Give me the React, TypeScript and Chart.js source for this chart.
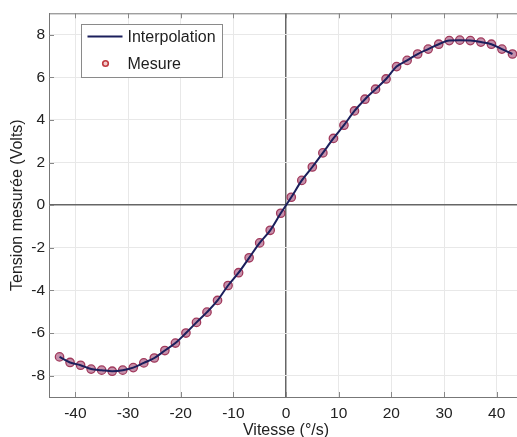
import React, { useEffect, useRef } from "react";
import { Chart, registerables } from "chart.js";

Chart.register(...registerables);

const VITESSE = [
  -43, -41, -39, -37, -35, -33, -31, -29, -27, -25, -23, -21, -19, -17, -15, -13, -11, -9, -7, -5, -3, -1,
  1, 3, 5, 7, 9, 11, 13, 15, 17, 19, 21, 23, 25, 27, 29, 31, 33, 35, 37, 39, 41, 43,
];
const TENSION = [
  -7.12, -7.38, -7.51, -7.69, -7.74, -7.79, -7.74, -7.62, -7.4, -7.17, -6.82, -6.47, -6.0, -5.5, -5.02, -4.47,
  -3.77, -3.17, -2.47, -1.77, -1.18, -0.38, 0.37, 1.16, 1.79, 2.45, 3.13, 3.75, 4.42, 4.97, 5.44, 5.92, 6.5,
  6.79, 7.09, 7.32, 7.55, 7.72, 7.74, 7.72, 7.65, 7.55, 7.32, 7.09,
];
const X_TICKS = [-40, -30, -20, -10, 0, 10, 20, 30, 40];
const Y_TICKS = [-8, -6, -4, -2, 0, 2, 4, 6, 8];
const SERIES_LINE = "Interpolation";
const SERIES_POINTS = "Mesure";
const X_TITLE = "Vitesse (°/s)";
const Y_TITLE = "Tension mesurée (Volts)";

const FONT = "'Liberation Sans', Arial, Helvetica, sans-serif";
const LINE_COLOR = "#1b1f5c";
const MARK_COLOR = "#a13a5c";
const MARK_FILL = "rgba(160, 70, 115, 0.6)";

const framePlugin = {
  id: "frame",
  afterDatasetsDraw(chart: any) {
    const { ctx, chartArea } = chart;
    const { left, right, top, bottom } = chartArea;
    const xs = chart.scales.x;
    const ys = chart.scales.y;
    ctx.save();
    ctx.strokeStyle = "#777";
    ctx.lineWidth = 1;
    ctx.beginPath();
    ctx.moveTo(left, top + 0.5);
    ctx.lineTo(right, top + 0.5);
    ctx.moveTo(right - 0.5, top);
    ctx.lineTo(right - 0.5, bottom);
    ctx.stroke();
    ctx.strokeStyle = "#888";
    ctx.beginPath();
    for (const v of X_TICKS) {
      const px = Math.round(xs.getPixelForValue(v)) + 0.5;
      ctx.moveTo(px, bottom);
      ctx.lineTo(px, bottom - 5);
      ctx.moveTo(px, top);
      ctx.lineTo(px, top + 5);
    }
    for (const v of Y_TICKS) {
      const py = Math.round(ys.getPixelForValue(v)) + 0.5;
      ctx.moveTo(left, py);
      ctx.lineTo(left + 5, py);
      ctx.moveTo(right, py);
      ctx.lineTo(right - 5, py);
    }
    ctx.stroke();
    ctx.restore();
  },
  afterDraw(chart: any) {
    const { ctx, chartArea } = chart;
    const ds = chart.data.datasets;
    const bx = Math.round(chartArea.left + 32) + 0.5;
    const by = Math.round(chartArea.top + 11) + 0.5;
    const bw = 141;
    const bh = 53;
    ctx.save();
    ctx.fillStyle = "#ffffff";
    ctx.fillRect(bx, by, bw, bh);
    ctx.strokeStyle = "#8a8a8a";
    ctx.lineWidth = 1;
    ctx.strokeRect(bx, by, bw, bh);
    const row1 = by + 12;
    const row2 = by + 39;
    ctx.strokeStyle = ds[0].borderColor;
    ctx.lineWidth = 2.2;
    ctx.beginPath();
    ctx.moveTo(bx + 6, row1);
    ctx.lineTo(bx + 41, row1);
    ctx.stroke();
    ctx.strokeStyle = "#c0393f";
    ctx.fillStyle = "rgba(230,150,150,0.5)";
    ctx.lineWidth = 1.6;
    ctx.beginPath();
    ctx.arc(bx + 24, row2, 2.8, 0, Math.PI * 2);
    ctx.fill();
    ctx.stroke();
    ctx.fillStyle = "#1e1e1e";
    ctx.font = `16px ${FONT}`;
    ctx.textBaseline = "middle";
    ctx.textAlign = "left";
    ctx.fillText(ds[0].label, bx + 46, row1 + 1);
    ctx.fillText(ds[1].label, bx + 46, row2 + 1);
    ctx.restore();
  },
};

export default function App() {
  const ref = useRef<HTMLCanvasElement | null>(null);

  useEffect(() => {
    if (!ref.current) return;
    const pts = VITESSE.map((x, i) => ({ x, y: TENSION[i] }));
    const chart = new Chart(ref.current, {
      type: "scatter",
      data: {
        datasets: [
          {
            label: SERIES_LINE,
            data: pts,
            showLine: true,
            borderColor: LINE_COLOR,
            borderWidth: 2,
            pointRadius: 0,
            cubicInterpolationMode: "monotone",
            order: 1,
          },
          {
            label: SERIES_POINTS,
            data: pts,
            showLine: false,
            pointRadius: 4.2,
            pointBorderWidth: 1.3,
            pointBorderColor: MARK_COLOR,
            pointBackgroundColor: MARK_FILL,
            order: 2,
          },
        ],
      },
      options: {
        responsive: false,
        animation: false,
        devicePixelRatio: 1,
        layout: { padding: { top: 12, right: 17, left: 0, bottom: 0 } },
        plugins: { legend: { display: false }, tooltip: { enabled: false } },
        scales: {
          x: {
            type: "linear",
            min: -45,
            max: 45,
            afterBuildTicks: (s: any) => {
              s.ticks = X_TICKS.map((v) => ({ value: v }));
            },
            afterFit: (s: any) => {
              s.height = 43;
            },
            grid: {
              drawTicks: false,
              color: (c: any) => (c.tick && c.tick.value === 0 ? "#666" : "#e8e8e8"),
              lineWidth: (c: any) => (c.tick && c.tick.value === 0 ? 1.5 : 1),
            },
            border: { display: true, color: "#777", width: 1 },
            ticks: { color: "#222", font: { family: FONT, size: 15.5 }, padding: 7, maxRotation: 0 },
            title: {
              display: true,
              text: X_TITLE,
              color: "#222",
              font: { family: FONT, size: 16 },
              padding: { top: 0, bottom: 0 },
            },
          },
          y: {
            type: "linear",
            min: -9,
            max: 9,
            afterBuildTicks: (s: any) => {
              s.ticks = Y_TICKS.map((v) => ({ value: v }));
            },
            afterFit: (s: any) => {
              s.width = 49;
            },
            grid: {
              drawTicks: false,
              color: (c: any) => (c.tick && c.tick.value === 0 ? "#666" : "#e8e8e8"),
              lineWidth: (c: any) => (c.tick && c.tick.value === 0 ? 1.5 : 1),
            },
            border: { display: true, color: "#777", width: 1 },
            ticks: { color: "#222", font: { family: FONT, size: 15.5 }, padding: 4 },
            title: {
              display: true,
              text: Y_TITLE,
              color: "#222",
              font: { family: FONT, size: 16 },
              padding: { top: 8, bottom: 0 },
            },
          },
        },
      },
      plugins: [framePlugin],
    } as any);
    return () => chart.destroy();
  }, []);

  return (
    <div
      style={{
        position: "fixed",
        left: 0,
        top: 0,
        width: 517,
        height: 437,
        overflow: "hidden",
        background: "#fff",
      }}
    >
      <canvas ref={ref} width={540} height={440} style={{ display: "block", width: 540, height: 440 }} />
    </div>
  );
}
